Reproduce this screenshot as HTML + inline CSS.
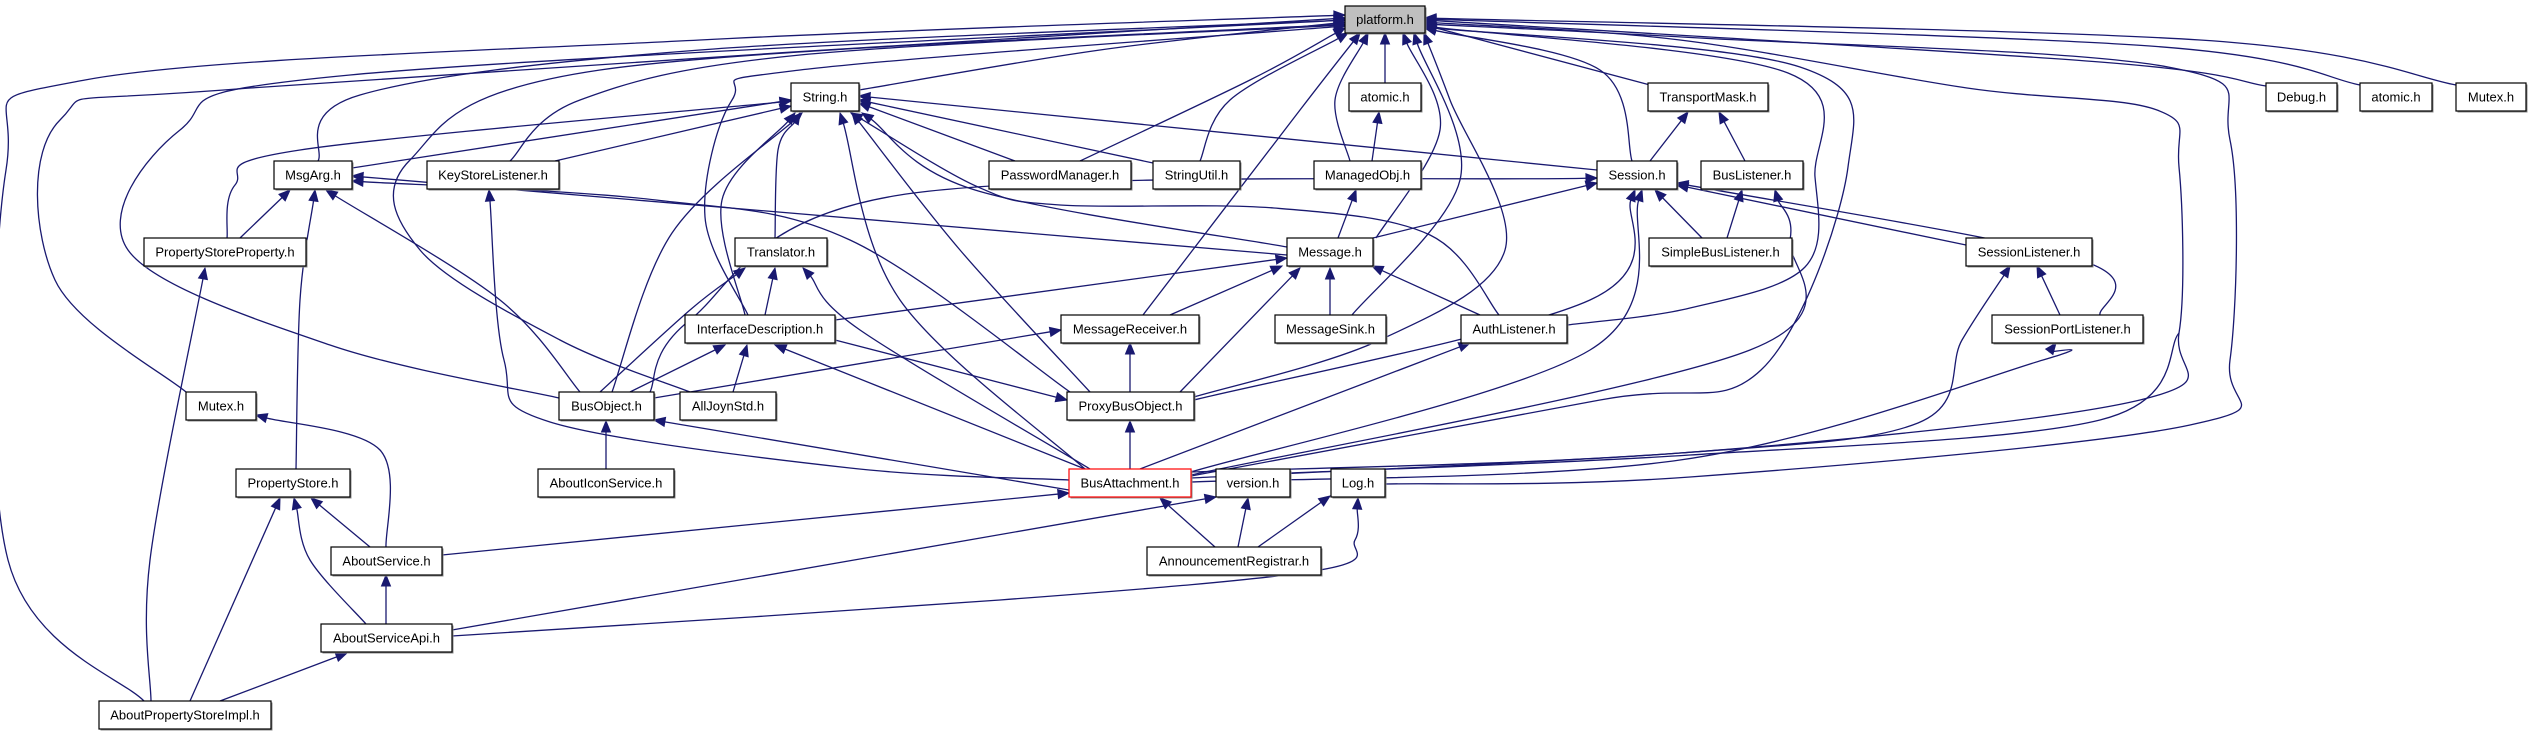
<!DOCTYPE html>
<html><head><meta charset="utf-8">
<style>
html,body{margin:0;padding:0;background:#fff;}
svg{display:block;}
text{font-family:"Liberation Sans",sans-serif;font-size:13px;fill:#000;}
</style></head>
<body>
<svg id="g" width="2533" height="736" xmlns="http://www.w3.org/2000/svg">
<g id="edges"></g>
<g id="nodes"></g>
</svg>
<script>
var N={
platform:[1345,6,80,27,"platform.h"],
String:[791,83,68,28,"String.h"],
atomicM:[1349,83,72,28,"atomic.h"],
TransportMask:[1648,83,120,28,"TransportMask.h"],
Debug:[2266,83,71,28,"Debug.h"],
atomicR:[2360,83,72,28,"atomic.h"],
MutexR:[2456,83,70,28,"Mutex.h"],
MsgArg:[274,161,78,28,"MsgArg.h"],
KeyStore:[427,161,132,28,"KeyStoreListener.h"],
PasswordManager:[989,161,142,28,"PasswordManager.h"],
StringUtil:[1153,161,87,28,"StringUtil.h"],
ManagedObj:[1314,161,107,28,"ManagedObj.h"],
Session:[1597,161,80,28,"Session.h"],
BusListener:[1701,161,102,28,"BusListener.h"],
PSP:[144,238,162,28,"PropertyStoreProperty.h"],
Translator:[735,238,92,28,"Translator.h"],
Message:[1287,238,86,28,"Message.h"],
SimpleBusListener:[1649,238,143,28,"SimpleBusListener.h"],
SessionListener:[1966,238,126,28,"SessionListener.h"],
InterfaceDescription:[685,315,150,28,"InterfaceDescription.h"],
MessageReceiver:[1061,315,138,28,"MessageReceiver.h"],
MessageSink:[1275,315,111,28,"MessageSink.h"],
AuthListener:[1461,315,106,28,"AuthListener.h"],
SessionPortListener:[1992,315,151,28,"SessionPortListener.h"],
MutexL:[186,392,70,28,"Mutex.h"],
BusObject:[559,392,95,28,"BusObject.h"],
AllJoynStd:[680,392,96,28,"AllJoynStd.h"],
ProxyBusObject:[1067,392,127,28,"ProxyBusObject.h"],
PropertyStore:[236,469,114,28,"PropertyStore.h"],
AboutIconService:[538,469,136,28,"AboutIconService.h"],
BusAttachment:[1069,469,122,28,"BusAttachment.h"],
version:[1216,469,74,28,"version.h"],
Log:[1331,469,54,28,"Log.h"],
AboutService:[331,547,111,28,"AboutService.h"],
AnnouncementRegistrar:[1147,547,174,28,"AnnouncementRegistrar.h"],
AboutServiceApi:[321,624,131,28,"AboutServiceApi.h"],
APSI:[99,701,172,28,"AboutPropertyStoreImpl.h"]
};
var E=[
[[859,90],[1100,50],[1345,22]],
[[318,161],[360,95],[700,50],[1345,20]],
[[510,161],[580,100],[800,55],[1345,25]],
[[144,701],[8,560],[6,170],[85,80],[700,40],[1345,15]],
[[186,392],[55,280],[60,120],[250,88],[1345,18]],
[[559,398],[330,345],[128,250],[180,130],[350,75],[1345,20]],
[[690,392],[560,340],[420,250],[410,160],[600,70],[1345,24]],
[[748,315],[705,217],[732,100],[800,70],[1345,26]],
[[1080,161],[1250,80],[1345,28]],
[[1200,161],[1230,100],[1348,33]],
[[1385,83],[1385,33]],
[[1350,161],[1335,100],[1368,33]],
[[1143,315],[1300,110],[1360,33]],
[[1376,238],[1440,130],[1403,33]],
[[1352,315],[1460,180],[1414,33]],
[[1194,397],[1380,340],[1505,250],[1450,100],[1424,33]],
[[1632,161],[1600,70],[1425,28]],
[[1650,85],[1425,25]],
[[2266,86],[2100,62],[1425,20]],
[[2360,85],[2150,46],[1425,19]],
[[2456,85],[2200,40],[1425,18]],
[[1191,472],[1680,453],[2140,400],[2179,333],[2179,167],[2157,110],[1967,88],[1680,40],[1425,22]],
[[1385,484],[1690,477],[2190,425],[2230,360],[2230,140],[2168,67],[1700,38],[1425,24]],
[[1567,325],[1690,308],[1805,267],[1815,177],[1788,73],[1425,26]],
[[1191,476],[1600,400],[1761,370],[1848,167],[1800,67],[1425,27]],
[[352,168],[791,100]],
[[555,161],[791,106]],
[[227,238],[235,185],[300,150],[791,101]],
[[1015,161],[859,103]],
[[1153,163],[859,100]],
[[1597,170],[859,96]],
[[1287,247],[975,190],[862,113]],
[[1499,315],[1430,235],[1274,208],[1060,205],[978,187],[851,113]],
[[1090,392],[960,250],[852,113]],
[[1085,469],[900,300],[840,113]],
[[775,238],[778,150],[800,113]],
[[745,315],[722,200],[795,113]],
[[612,392],[672,233],[802,113]],
[[240,238],[290,190]],
[[296,469],[300,300],[315,190]],
[[580,392],[500,300],[326,190]],
[[1287,255],[352,176]],
[[1070,392],[850,240],[656,200],[352,181]],
[[1069,480],[850,468],[550,422],[504,360],[489,190]],
[[151,701],[150,560],[205,268]],
[[765,315],[775,268]],
[[600,392],[690,310],[745,268]],
[[1090,469],[860,330],[803,268]],
[[630,392],[725,345]],
[[733,392],[747,345]],
[[1085,469],[775,345]],
[[835,320],[1287,258]],
[[1170,315],[1282,266]],
[[1330,315],[1330,268]],
[[1480,315],[1372,266]],
[[1180,392],[1300,268]],
[[1338,238],[1356,190]],
[[1372,161],[1379,112]],
[[1373,238],[1597,183]],
[[650,392],[690,320],[900,195],[1597,178]],
[[1702,238],[1655,190]],
[[1966,245],[1677,185]],
[[2100,315],[2080,260],[1677,183]],
[[1194,400],[1590,300],[1635,190]],
[[1191,472],[1590,350],[1642,190]],
[[1650,161],[1688,112]],
[[1745,161],[1719,112]],
[[1727,238],[1742,190]],
[[1191,475],[1750,350],[1790,240],[1775,190]],
[[2060,315],[2037,266]],
[[1191,478],[1680,453],[1918,423],[1962,340],[2010,266]],
[[1191,482],[1680,460],[2043,360],[2056,343]],
[[1130,392],[1130,343]],
[[654,398],[1061,330]],
[[1140,469],[1470,343]],
[[606,469],[606,421]],
[[1069,490],[654,420]],
[[1130,469],[1130,421]],
[[835,340],[1067,400]],
[[386,547],[380,450],[256,415]],
[[370,547],[311,498]],
[[366,624],[310,560],[294,498]],
[[190,701],[280,498]],
[[386,624],[386,575]],
[[442,555],[1069,493]],
[[452,630],[1216,497]],
[[452,636],[1000,600],[1320,570],[1355,540],[1358,498]],
[[220,701],[347,653]],
[[1215,547],[1160,498]],
[[1238,547],[1248,498]],
[[1258,547],[1330,496]],
[[1290,473],[1690,455],[2100,420],[2179,333]]
];
var NS="http://www.w3.org/2000/svg";
var eg=document.getElementById("edges"),ng=document.getElementById("nodes");
function mk(t,a,p){var e=document.createElementNS(NS,t);for(var k in a)e.setAttribute(k,a[k]);p.appendChild(e);return e;}
E.forEach(function(pts,idx){
  var last=pts.length-1;
  var tip=pts[last], prev=pts[last-1];
  var dx=tip[0]-prev[0],dy=tip[1]-prev[1],L=Math.sqrt(dx*dx+dy*dy);
  var ux=dx/L,uy=dy/L,AL=11,AW=4.5;
  var base=[tip[0]-ux*AL,tip[1]-uy*AL];
  var P=pts.slice();
  var noArrow=(idx===E.length-1);
  if(!noArrow)P[last]=base;
  var d="M"+P[0][0]+","+P[0][1];
  if(P.length==2){d+=" L"+P[1][0]+","+P[1][1];}
  else{
    for(var i=0;i<P.length-1;i++){
      var p0=P[Math.max(0,i-1)],p1=P[i],p2=P[i+1],p3=P[Math.min(P.length-1,i+2)];
      var c1=[p1[0]+(p2[0]-p0[0])/6,p1[1]+(p2[1]-p0[1])/6];
      var c2=[p2[0]-(p3[0]-p1[0])/6,p2[1]-(p3[1]-p1[1])/6];
      d+=" C"+c1[0]+","+c1[1]+" "+c2[0]+","+c2[1]+" "+p2[0]+","+p2[1];
    }
  }
  mk("path",{d:d,fill:"none",stroke:"#191970","stroke-width":"1.3"},eg);
  if(!noArrow){
    var px=-uy,py=ux;
    mk("polygon",{points:tip[0]+","+tip[1]+" "+(base[0]+px*AW)+","+(base[1]+py*AW)+" "+(base[0]-px*AW)+","+(base[1]-py*AW),fill:"#191970",stroke:"#191970","stroke-width":"1"},eg);
  }
});
for(var k in N){
  var n=N[k];
  mk("rect",{x:n[0]+1.5,y:n[1]+1.5,width:n[2],height:n[3],fill:"#888"},ng);
  mk("rect",{x:n[0],y:n[1],width:n[2],height:n[3],fill:k=="platform"?"#bfbfbf":"#fff",stroke:k=="BusAttachment"?"#ff0000":"#000","stroke-width":"1.2"},ng);
  var t=mk("text",{x:n[0]+n[2]/2,y:n[1]+n[3]/2+4.5,"text-anchor":"middle"},ng);
  t.textContent=n[4];
}
</script>
</body></html>
